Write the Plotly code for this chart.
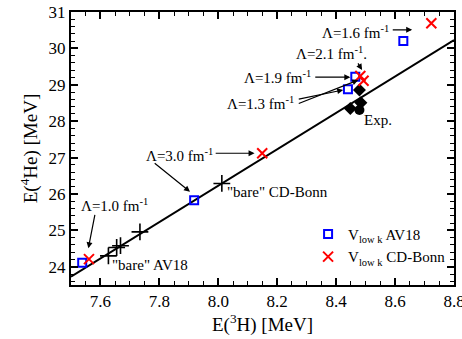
import plotly.graph_objects as go

# ---- data ----
av18_x = [7.538, 7.918, 8.440, 8.465, 8.628]
av18_y = [24.11, 25.83, 28.88, 29.22, 30.20]

cdb_x = [7.561, 8.149, 8.482, 8.493, 8.723]
cdb_y = [24.21, 27.12, 29.24, 29.11, 30.69]

bare_x = [7.627, 7.655, 7.668, 7.734, 8.012]
bare_y = [24.30, 24.53, 24.58, 24.96, 26.29]

diam_x = [8.479, 8.484, 8.448]
diam_y = [28.86, 28.51, 28.35]

exp_x = [8.479]
exp_y = [28.31]

line_x = [7.5, 8.8]
line_y = [23.73, 30.23]

FONT = "Liberation Serif"

fig = go.Figure()
fig.add_trace(go.Scatter(x=line_x, y=line_y, mode="lines",
                         line=dict(color="black", width=2), showlegend=False))
fig.add_trace(go.Scatter(x=bare_x, y=bare_y, mode="markers", showlegend=False,
                         marker=dict(symbol="cross-thin-open", size=12, color="black",
                                     line=dict(color="black", width=1.6))))
fig.add_trace(go.Scatter(x=diam_x, y=diam_y, mode="markers", showlegend=False,
                         marker=dict(symbol="diamond", size=10, color="black")))
fig.add_trace(go.Scatter(x=exp_x, y=exp_y, mode="markers", showlegend=False,
                         marker=dict(symbol="circle", size=10, color="black")))
fig.add_trace(go.Scatter(x=av18_x, y=av18_y, mode="markers",
                         name="V<sub>low k</sub> AV18",
                         marker=dict(symbol="square-open", size=8, color="#0000ff",
                                     line=dict(color="#0000ff", width=2))))
fig.add_trace(go.Scatter(x=cdb_x, y=cdb_y, mode="markers",
                         name="V<sub>low k</sub> CD-Bonn",
                         marker=dict(symbol="x-thin-open", size=10, color="#ff0000",
                                     line=dict(color="#ff0000", width=2))))

labels = [
    ("Λ=1.6 fm<sup>-1</sup>", 8.465, 30.45),
    ("Λ=2.1 fm<sup>-1</sup>.", 8.383, 29.87),
    ("Λ=1.9 fm<sup>-1</sup>", 8.201, 29.21),
    ("Λ=1.3 fm<sup>-1</sup>", 8.144, 28.50),
    ("Λ=3.0 fm<sup>-1</sup>", 7.867, 27.07),
    ("Λ=1.0 fm<sup>-1</sup>", 7.649, 25.70),
    ("\"bare\" AV18", 7.768, 24.05),
    ("\"bare\" CD-Bonn", 8.200, 26.05),
    ("Exp.", 8.543, 28.03),
]
for t, x, y in labels:
    fig.add_annotation(x=x, y=y, text=t, showarrow=False,
                       font=dict(family=FONT, size=15, color="black"))

arrows = [
    (8.587, 30.51, 8.658, 30.51),
    (8.471, 29.63, 8.488, 29.41),
    (8.324, 29.21, 8.448, 29.21),
    (8.268, 28.60, 8.424, 28.86),
    (8.268, 28.47, 8.475, 29.13),
    (7.986, 27.12, 8.123, 27.12),
    (7.779, 26.88, 7.904, 26.06),
    (7.582, 25.47, 7.559, 24.51),
]
for tx, ty, hx, hy in arrows:
    fig.add_annotation(x=hx, y=hy, ax=tx, ay=ty, xref="x", yref="y",
                       axref="x", ayref="y", text="", showarrow=True,
                       arrowhead=2, arrowsize=1, arrowwidth=1.2,
                       arrowcolor="black")

axis_common = dict(showline=True, linecolor="black", linewidth=2, mirror="allticks",
                   ticks="inside", ticklen=7, tickwidth=1.5, tickcolor="black",
                   showgrid=False, zeroline=False, ticklabeloverflow="allow",
                   tickfont=dict(family=FONT, size=17, color="black"))

fig.update_xaxes(range=[7.5, 8.8], dtick=0.2, tick0=7.6, tickformat=".1f",
                 minor=dict(dtick=0.05, ticks="inside", ticklen=4, tickwidth=1.2,
                            tickcolor="black", showgrid=False),
                 title=dict(text="E(<sup>3</sup>H) [MeV]", standoff=2,
                            font=dict(family=FONT, size=19, color="black")),
                 **axis_common)
fig.update_yaxes(range=[23.5, 31], dtick=1, tick0=24,
                 minor=dict(dtick=0.2, ticks="inside", ticklen=4, tickwidth=1.2,
                            tickcolor="black", showgrid=False),
                 title=dict(text="E(<sup>4</sup>He) [MeV]", standoff=6,
                            font=dict(family=FONT, size=19, color="black")),
                 **axis_common)

fig.update_layout(
    width=462, height=339,
    margin=dict(l=71, r=8, t=12, b=54, autoexpand=False),
    paper_bgcolor="white", plot_bgcolor="white",
    font=dict(family=FONT, color="black"),
    legend=dict(x=0.619, y=0.246, xanchor="left", yanchor="top",
                bgcolor="rgba(0,0,0,0)", borderwidth=0,
                font=dict(family=FONT, size=15, color="black"),
                tracegroupgap=0, itemwidth=30),
)

fig.write_html("out.html")
